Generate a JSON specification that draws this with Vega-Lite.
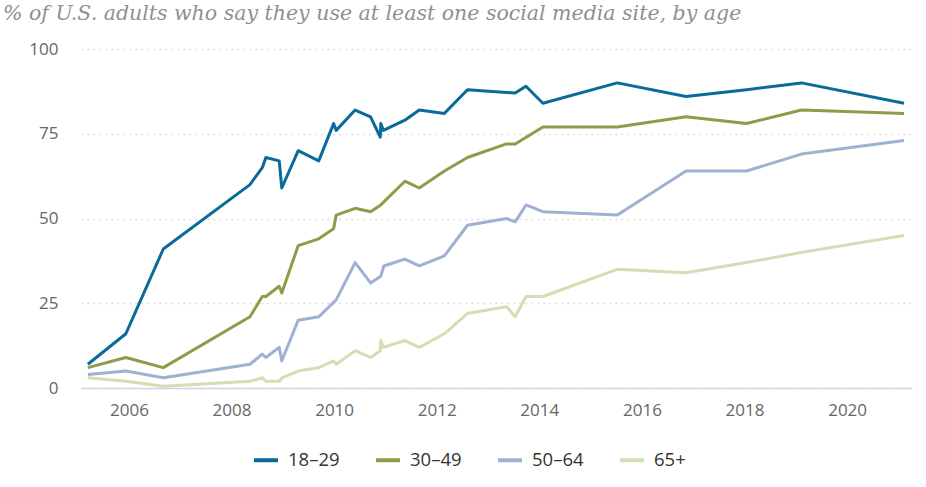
{
  "$schema": "https://vega.github.io/schema/vega-lite/v6.json",
  "width": 831,
  "height": 339,
  "autosize": {"type": "none"},
  "padding": {"left": 81, "top": 49, "right": 14, "bottom": 99},
  "background": "white",
  "title": {
    "text": "% of U.S. adults who say they use at least one social media site, by age",
    "anchor": "start",
    "frame": "group",
    "dx": -78,
    "offset": 16,
    "font": "DejaVu Serif",
    "fontStyle": "italic",
    "fontWeight": "normal",
    "fontSize": 20.5,
    "color": "#8f8f8f"
  },
  "config": {
    "view": {"stroke": null},
    "axis": {"labelFont": "Open Sans", "labelFontSize": 17, "labelColor": "#666666"}
  },
  "data": {
    "values": [
      {"year": 2005.2, "age": "18–29", "pct": 7},
      {"year": 2005.94, "age": "18–29", "pct": 16},
      {"year": 2006.67, "age": "18–29", "pct": 41},
      {"year": 2008.36, "age": "18–29", "pct": 60},
      {"year": 2008.6, "age": "18–29", "pct": 65},
      {"year": 2008.67, "age": "18–29", "pct": 68},
      {"year": 2008.93, "age": "18–29", "pct": 67},
      {"year": 2008.98, "age": "18–29", "pct": 59},
      {"year": 2009.3, "age": "18–29", "pct": 70},
      {"year": 2009.7, "age": "18–29", "pct": 67},
      {"year": 2009.99, "age": "18–29", "pct": 78},
      {"year": 2010.04, "age": "18–29", "pct": 76},
      {"year": 2010.41, "age": "18–29", "pct": 82},
      {"year": 2010.71, "age": "18–29", "pct": 80},
      {"year": 2010.9, "age": "18–29", "pct": 74},
      {"year": 2010.91, "age": "18–29", "pct": 78},
      {"year": 2010.96, "age": "18–29", "pct": 76},
      {"year": 2011.38, "age": "18–29", "pct": 79},
      {"year": 2011.66, "age": "18–29", "pct": 82},
      {"year": 2012.15, "age": "18–29", "pct": 81},
      {"year": 2012.6, "age": "18–29", "pct": 88},
      {"year": 2013.53, "age": "18–29", "pct": 87},
      {"year": 2013.74, "age": "18–29", "pct": 89},
      {"year": 2014.07, "age": "18–29", "pct": 84},
      {"year": 2015.52, "age": "18–29", "pct": 90},
      {"year": 2016.86, "age": "18–29", "pct": 86},
      {"year": 2018.04, "age": "18–29", "pct": 88},
      {"year": 2019.11, "age": "18–29", "pct": 90},
      {"year": 2021.11, "age": "18–29", "pct": 84},

      {"year": 2005.2, "age": "30–49", "pct": 6},
      {"year": 2005.94, "age": "30–49", "pct": 9},
      {"year": 2006.67, "age": "30–49", "pct": 6},
      {"year": 2008.36, "age": "30–49", "pct": 21},
      {"year": 2008.6, "age": "30–49", "pct": 27},
      {"year": 2008.67, "age": "30–49", "pct": 27},
      {"year": 2008.93, "age": "30–49", "pct": 30},
      {"year": 2008.98, "age": "30–49", "pct": 28},
      {"year": 2009.3, "age": "30–49", "pct": 42},
      {"year": 2009.7, "age": "30–49", "pct": 44},
      {"year": 2009.99, "age": "30–49", "pct": 47},
      {"year": 2010.04, "age": "30–49", "pct": 51},
      {"year": 2010.41, "age": "30–49", "pct": 53},
      {"year": 2010.71, "age": "30–49", "pct": 52},
      {"year": 2010.91, "age": "30–49", "pct": 54},
      {"year": 2011.38, "age": "30–49", "pct": 61},
      {"year": 2011.66, "age": "30–49", "pct": 59},
      {"year": 2012.15, "age": "30–49", "pct": 64},
      {"year": 2012.6, "age": "30–49", "pct": 68},
      {"year": 2013.36, "age": "30–49", "pct": 72},
      {"year": 2013.53, "age": "30–49", "pct": 72},
      {"year": 2014.07, "age": "30–49", "pct": 77},
      {"year": 2015.52, "age": "30–49", "pct": 77},
      {"year": 2016.86, "age": "30–49", "pct": 80},
      {"year": 2018.04, "age": "30–49", "pct": 78},
      {"year": 2019.11, "age": "30–49", "pct": 82},
      {"year": 2021.11, "age": "30–49", "pct": 81},

      {"year": 2005.2, "age": "50–64", "pct": 4},
      {"year": 2005.94, "age": "50–64", "pct": 5},
      {"year": 2006.67, "age": "50–64", "pct": 3},
      {"year": 2008.36, "age": "50–64", "pct": 7},
      {"year": 2008.6, "age": "50–64", "pct": 10},
      {"year": 2008.67, "age": "50–64", "pct": 9},
      {"year": 2008.93, "age": "50–64", "pct": 12},
      {"year": 2008.98, "age": "50–64", "pct": 8},
      {"year": 2009.3, "age": "50–64", "pct": 20},
      {"year": 2009.7, "age": "50–64", "pct": 21},
      {"year": 2010.04, "age": "50–64", "pct": 26},
      {"year": 2010.41, "age": "50–64", "pct": 37},
      {"year": 2010.71, "age": "50–64", "pct": 31},
      {"year": 2010.91, "age": "50–64", "pct": 33},
      {"year": 2010.97, "age": "50–64", "pct": 36},
      {"year": 2011.38, "age": "50–64", "pct": 38},
      {"year": 2011.66, "age": "50–64", "pct": 36},
      {"year": 2012.15, "age": "50–64", "pct": 39},
      {"year": 2012.6, "age": "50–64", "pct": 48},
      {"year": 2013.36, "age": "50–64", "pct": 50},
      {"year": 2013.53, "age": "50–64", "pct": 49},
      {"year": 2013.74, "age": "50–64", "pct": 54},
      {"year": 2014.07, "age": "50–64", "pct": 52},
      {"year": 2015.52, "age": "50–64", "pct": 51},
      {"year": 2016.86, "age": "50–64", "pct": 64},
      {"year": 2018.04, "age": "50–64", "pct": 64},
      {"year": 2019.11, "age": "50–64", "pct": 69},
      {"year": 2021.11, "age": "50–64", "pct": 73},

      {"year": 2005.2, "age": "65+", "pct": 3},
      {"year": 2005.94, "age": "65+", "pct": 2},
      {"year": 2006.67, "age": "65+", "pct": 0.5},
      {"year": 2008.36, "age": "65+", "pct": 2},
      {"year": 2008.6, "age": "65+", "pct": 3},
      {"year": 2008.67, "age": "65+", "pct": 2},
      {"year": 2008.93, "age": "65+", "pct": 2},
      {"year": 2008.98, "age": "65+", "pct": 3},
      {"year": 2009.3, "age": "65+", "pct": 5},
      {"year": 2009.7, "age": "65+", "pct": 6},
      {"year": 2009.99, "age": "65+", "pct": 8},
      {"year": 2010.04, "age": "65+", "pct": 7},
      {"year": 2010.41, "age": "65+", "pct": 11},
      {"year": 2010.71, "age": "65+", "pct": 9},
      {"year": 2010.9, "age": "65+", "pct": 11},
      {"year": 2010.91, "age": "65+", "pct": 14},
      {"year": 2010.96, "age": "65+", "pct": 12},
      {"year": 2011.38, "age": "65+", "pct": 14},
      {"year": 2011.66, "age": "65+", "pct": 12},
      {"year": 2012.15, "age": "65+", "pct": 16},
      {"year": 2012.6, "age": "65+", "pct": 22},
      {"year": 2013.36, "age": "65+", "pct": 24},
      {"year": 2013.53, "age": "65+", "pct": 21},
      {"year": 2013.74, "age": "65+", "pct": 27},
      {"year": 2014.07, "age": "65+", "pct": 27},
      {"year": 2015.52, "age": "65+", "pct": 35},
      {"year": 2016.86, "age": "65+", "pct": 34},
      {"year": 2018.04, "age": "65+", "pct": 37},
      {"year": 2019.11, "age": "65+", "pct": 40},
      {"year": 2021.11, "age": "65+", "pct": 45}
    ]
  },
  "mark": {"type": "line", "strokeWidth": 3, "strokeJoin": "round", "strokeCap": "butt"},
  "encoding": {
    "x": {
      "field": "year",
      "type": "quantitative",
      "scale": {"domain": [2005.066, 2021.265], "nice": false, "zero": false},
      "axis": {
        "title": null,
        "values": [2006, 2008, 2010, 2012, 2014, 2016, 2018, 2020],
        "format": "d",
        "grid": false,
        "ticks": false,
        "domain": true,
        "domainColor": "#cdd5e8",
        "domainWidth": 1.5,
        "labelPadding": 14
      }
    },
    "y": {
      "field": "pct",
      "type": "quantitative",
      "scale": {"domain": [0, 100], "nice": false},
      "axis": {
        "title": null,
        "values": [0, 25, 50, 75, 100],
        "domain": false,
        "ticks": false,
        "grid": true,
        "gridColor": "#d4d4d4",
        "gridDash": [1.5, 4.5],
        "gridWidth": 1.5,
        "labelPadding": 23
      }
    },
    "color": {
      "field": "age",
      "type": "nominal",
      "scale": {
        "domain": ["18–29", "30–49", "50–64", "65+"],
        "range": ["#0a6a98", "#8c9d4a", "#9eb1d0", "#d4ddb3"]
      },
      "legend": {
        "title": null,
        "orient": "none",
        "direction": "horizontal",
        "legendX": 171,
        "legendY": 397,
        "symbolType": "stroke",
        "symbolSize": 576,
        "symbolStrokeWidth": 4,
        "labelFont": "Open Sans",
        "labelFontSize": 18.5,
        "labelColor": "#333333",
        "labelOffset": 8,
        "columnPadding": 28
      }
    }
  }
}
